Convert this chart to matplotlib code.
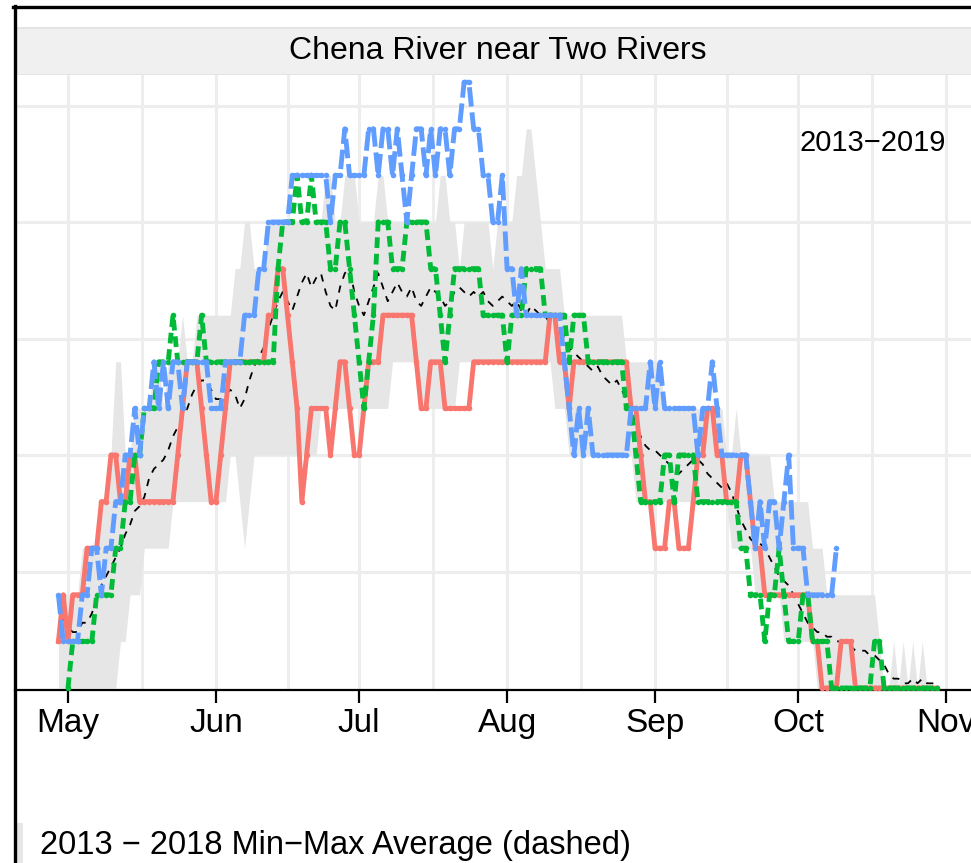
import matplotlib
matplotlib.use("Agg")
import matplotlib.pyplot as plt
import numpy as np
from matplotlib.lines import Line2D
from matplotlib.patches import Rectangle

plt.rcParams['font.family'] = ['Liberation Sans', 'DejaVu Sans']

# days counted from May 1
month_days = [0, 31, 61, 92, 123, 153, 184]
month_labels = ["May", "Jun", "Jul", "Aug", "Sep", "Oct", "Nov"]

# 2013-2018 min / max band and its average (dashed), day -2 .. 182
band_start = -2
band_low = [0, 0, 0, 0, 0, 0, 0, 0, 0, 0,
            0, 0, 0, 1, 1, 2, 2, 2, 3, 3,
            3, 3, 3, 3, 4, 4, 4, 4, 4, 4,
            4, 4, 4, 4, 4, 4, 5, 5, 4, 3,
            4, 5, 5, 5, 5, 5, 5, 5, 5, 5,
            5, 5, 5, 5, 5, 6, 6, 6, 6, 6,
            6, 6, 6, 6, 6, 6, 6, 6, 6, 6,
            7, 7, 7, 7, 7, 7, 6, 6, 6, 6,
            6, 6, 6, 6, 7, 7, 7, 7, 7, 7,
            7, 7, 7, 7, 7, 7, 7, 7, 7, 7,
            7, 7, 7, 7, 6, 6, 6, 5, 5, 5,
            5, 5, 5, 5, 5, 5, 5, 5, 5, 5,
            5, 4, 4, 4, 4, 4, 4, 4, 4, 4,
            4, 4, 4, 4, 4, 4, 4, 4, 4, 4,
            4, 3, 3, 3, 3, 3, 2, 2, 2, 2,
            2, 2, 1, 1, 1, 1, 1, 1, 1, 0,
            0, 0, 0, 0, 0, 0, 0, 0, 0, 0,
            0, 0, 0, 0, 0, 0, 0, 0, 0, 0,
            0, 0, 0, 0, 0]
band_high = [2, 2, 2, 2, 2, 3, 3, 3, 3, 4,
             4, 5, 7, 7, 5, 5, 6, 6, 6, 6,
             7, 7, 6, 7, 7, 7, 8, 7, 7, 8,
             8, 8, 8, 8, 8, 8, 8, 9, 9, 10,
             10, 9, 9, 9, 10, 10, 10, 10, 10, 10,
             10, 10, 10, 10, 10, 10, 11, 11, 10, 10,
             11, 11, 11, 10, 10, 10, 10, 11, 11, 10,
             10, 10, 10, 10, 10, 10, 10, 10, 10, 10,
             11, 11, 10, 10, 9, 10, 10, 10, 10, 10,
             10, 9, 10, 10, 10, 10, 11, 11, 12, 12,
             11, 10, 9, 9, 9, 9, 8, 8, 8, 8,
             8, 8, 8, 8, 8, 8, 8, 8, 8, 7,
             7, 7, 7, 7, 7, 7, 7, 6, 6, 6,
             6, 6, 6, 6, 6, 6, 6, 6, 6, 6,
             5, 5, 6, 5, 5, 5, 5, 5, 5, 5,
             4, 4, 4, 4, 4, 4, 4, 4, 3, 3,
             3, 2, 2, 2, 2, 2, 2, 2, 2, 2,
             2, 2, 1, 0, 0, 1, 0, 1, 0, 1,
             0, 1, 0, 0, 0]
band_avg = [1.8, 1.5, 1.3, 1.2, 1.2, 1.4, 1.4, 1.6, 1.9, 2.2,
            2.4, 2.6, 2.8, 3.0, 3.3, 3.5, 3.8, 3.9, 4.1, 4.5,
            4.7, 4.8, 4.9, 5.1, 5.4, 5.6, 5.8, 6.0, 6.3, 6.5,
            6.6, 6.6, 6.4, 6.2, 6.2, 6.3, 6.4, 6.3, 6.0, 6.2,
            6.6, 6.9, 7.1, 7.3, 7.7, 8.0, 8.3, 8.5, 8.3, 8.1,
            8.4, 8.7, 8.9, 8.6, 8.8, 8.9, 8.5, 8.2, 8.1, 8.6,
            8.9, 9.0, 8.5, 8.2, 8.0, 8.3, 8.6, 8.9, 8.6, 8.3,
            8.5, 8.7, 8.5, 8.4, 8.6, 8.3, 8.2, 8.4, 8.6, 8.5,
            8.4, 8.2, 8.3, 8.5, 8.6, 8.5, 8.4, 8.5, 8.4, 8.5,
            8.3, 8.2, 8.3, 8.4, 8.3, 8.2, 8.3, 8.1, 8.0, 8.2,
            8.1, 8.0, 8.0, 7.8, 7.9, 7.7, 7.5, 7.3, 7.2, 7.1,
            7.0, 6.9, 6.8, 6.9, 6.7, 6.6, 6.5, 6.6, 6.4, 6.2,
            6.0, 5.7, 5.4, 5.2, 5.1, 5.1, 5.0, 4.9, 4.8, 4.7,
            4.6, 4.7, 4.8, 4.9, 4.9, 4.8, 4.6, 4.5, 4.4, 4.3,
            4.4, 4.2, 3.9, 3.6, 3.4, 3.2, 3.1, 3.1, 3.0, 2.8,
            2.6, 2.4, 2.3, 2.2, 2.0, 1.8, 1.6, 1.4, 1.3, 1.2,
            1.2, 1.1, 1.1, 1.0, 1.0, 0.9, 0.9, 0.8, 0.8, 0.8,
            0.7, 0.7, 0.6, 0.5, 0.3, 0.2, 0.2, 0.1, 0.1, 0.2,
            0.1, 0.2, 0.1, 0.1, 0.1]

# individual years
red_start = -2
red_vals = [1, 2, 1, 2, 2, 2, 3, 3, 3, 4,
            4, 5, 5, 4, 4, 5, 5, 4, 4, 4,
            4, 4, 4, 4, 4, 5, 6, 7, 7, 7,
            6, 5, 4, 4, 5, 6, 7, 7, 7, 7,
            7, 7, 7, 7, 8, 8, 9, 9, 8, 7,
            6, 4, 5, 6, 6, 6, 6, 5, 6, 7,
            7, 6, 5, 5, 6, 7, 7, 7, 8, 8,
            8, 8, 8, 8, 8, 7, 6, 6, 7, 7,
            7, 6, 6, 6, 6, 6, 6, 7, 7, 7,
            7, 7, 7, 7, 7, 7, 7, 7, 7, 7,
            7, 7, 7, 8, 8, 7, 7, 6, 7, 7,
            7, 7, 7, 7, 7, 7, 7, 7, 7, 7,
            6, 6, 5, 4, 4, 3, 3, 3, 4, 4,
            3, 3, 3, 4, 5, 5, 6, 6, 5, 5,
            4, 4, 4, 5, 5, 4, 3, 3, 2, 2,
            2, 2, 2, 2, 2, 2, 2, 2, 1, 1,
            0, 0, 0, 0, 1, 1, 1, 0, 0, 0,
            0, 0, 0, 0, 0, 0, 0, 0, 0, 0,
            0, 0, 0, 0, 0]
green_start = 0
green_vals = [0, 1, 1, 1, 1, 1, 2, 2, 2, 2,
              3, 3, 4, 4, 5, 5, 6, 6, 6, 7,
              7, 7, 8, 7, 7, 7, 7, 7, 8, 7,
              7, 7, 7, 7, 7, 7, 7, 7, 7, 7,
              7, 7, 7, 7, 9, 10, 10, 10, 11, 10,
              10, 11, 10, 10, 10, 9, 9, 10, 10, 9,
              8, 7, 6, 7, 8, 10, 10, 10, 9, 9,
              9, 10, 10, 10, 10, 10, 9, 9, 8, 7,
              8, 9, 9, 9, 9, 9, 9, 8, 8, 8,
              8, 8, 7, 8, 8, 8, 9, 9, 9, 9,
              8, 8, 8, 8, 8, 7, 8, 8, 8, 7,
              7, 7, 7, 7, 7, 7, 7, 6, 6, 5,
              4, 4, 4, 4, 4, 5, 5, 4, 5, 5,
              5, 5, 4, 4, 4, 4, 4, 4, 4, 4,
              4, 3, 3, 2, 2, 2, 1, 2, 2, 3,
              2, 1, 1, 1, 2, 2, 1, 1, 1, 1,
              0, 0, 0, 0, 0, 0, 0, 0, 0, 1,
              1, 0, 0, 0, 0, 0, 0, 0, 0, 0,
              0, 0, 0]
blue_start = -2
blue_vals = [2, 1, 1, 1, 1, 2, 2, 3, 3, 2,
             3, 3, 4, 4, 5, 5, 6, 5, 6, 6,
             7, 6, 7, 6, 7, 7, 6, 7, 7, 7,
             7, 7, 6, 6, 6, 7, 7, 7, 7, 8,
             8, 8, 9, 9, 10, 10, 10, 10, 10, 11,
             11, 11, 11, 11, 11, 11, 11, 10, 11, 11,
             12, 11, 11, 11, 11, 12, 12, 11, 12, 12,
             11, 12, 11, 10, 11, 12, 12, 11, 12, 11,
             12, 12, 11, 12, 12, 13, 13, 12, 12, 11,
             11, 10, 10, 11, 9, 9, 8, 9, 8, 8,
             8, 8, 8, 8, 8, 8, 7, 6, 5, 6,
             5, 6, 5, 5, 5, 5, 5, 5, 5, 5,
             6, 6, 6, 6, 7, 6, 7, 6, 6, 6,
             6, 6, 6, 6, 5, 6, 6, 7, 6, 5,
             5, 5, 5, 5, 5, 4, 3, 4, 3, 4,
             4, 3, 4, 5, 3, 3, 3, 2, 2, 2,
             2, 2, 2, 3]

W, H = 971, 863
fig = plt.figure(figsize=(W / 100, H / 100), dpi=100)
fig.patch.set_facecolor("white")

# pixel helpers (origin top-left)
def fx(px):
    return px / W

def fy(py):
    return 1 - py / H

pan_l, pan_r, pan_t, pan_b = 15, 981, 75, 690
ax = fig.add_axes([fx(pan_l), fy(pan_b), fx(pan_r - pan_l), (pan_b - pan_t) / H])
ax.set_xlim(-11.1, 191.3)
ax.set_ylim(-0.043, 13.155)

grid_col = "#EDEDED"
for d in month_days:
    ax.axvline(d, color=grid_col, lw=2.2, zorder=0)
for d in [15.5, 46, 76.5, 107.5, 138, 168.5]:
    ax.axvline(d, color=grid_col, lw=2.0, zorder=0)
for v in [2.5, 5, 7.5, 10, 12.5]:
    ax.axhline(v, color=grid_col, lw=2.2, zorder=0)

bd = np.arange(band_start, band_start + len(band_low))
ax.fill_between(bd, band_low, band_high, color="#E6E6E6", lw=0, zorder=1)
ax.plot(bd, band_avg, color="black", lw=1.3, ls=(0, (4, 4)), zorder=2)

rd = np.arange(red_start, red_start + len(red_vals))
gd = np.arange(green_start, green_start + len(green_vals))
blud = np.arange(blue_start, blue_start + len(blue_vals))
ax.plot(rd, red_vals, color="#F8766D", lw=3.5, ls="-", marker="o", ms=4, mew=0, zorder=3)
ax.plot(gd, green_vals, color="#00BA38", lw=3.5, ls=(0, (2.2, 1.2)), marker="o", ms=4, mew=0, zorder=4)
ax.plot(blud, blue_vals, color="#619CFF", lw=3.5, ls=(0, (4, 1.2)), marker="o", ms=4, mew=0, zorder=5)

ax.text(184, 11.7, "2013\u22122019", fontsize=21, ha="right", va="center", color="black")

for s in ["top", "right", "left"]:
    ax.spines[s].set_visible(False)
ax.spines["bottom"].set_linewidth(1.6)
ax.spines["bottom"].set_color("black")
ax.set_yticks([])
ax.set_xticks(month_days)
ax.set_xticklabels(month_labels, fontsize=24)
ax.tick_params(axis="x", length=9, width=1.6, pad=4, color="black")

# facet strip
strip = fig.add_axes([fx(pan_l), fy(75), fx(pan_r - pan_l), 48 / H])
strip.set_facecolor("#F0F0F0")
strip.set_xticks([])
strip.set_yticks([])
for s in strip.spines.values():
    s.set_visible(False)
strip.axhline(1, color="#E3E3E3", lw=2)
strip.axhline(0, color="#E3E3E3", lw=2)
strip.text(0.5, 0.5, "Chena River near Two Rivers", fontsize=23, ha="center", va="center",
           transform=strip.transAxes)

# legend fragment at the bottom
fig.patches.append(Rectangle((fx(16), 0), fx(7), 40 / H, transform=fig.transFigure,
                             color="#E6E6E6", lw=0))
fig.text(fx(40), fy(845), "2013 \u2212 2018 Min\u2212Max Average (dashed)", fontsize=23.5,
         ha="left", va="center")

# outer frame of the cropped image
fig.add_artist(Line2D([fx(14.5), fx(14.5)], [fy(6), 0], color="black", lw=2.4,
                      transform=fig.transFigure))
fig.add_artist(Line2D([fx(13), 1], [fy(7), fy(7)], color="black", lw=2.4,
                      transform=fig.transFigure))

fig.savefig("out.png", dpi=100)
